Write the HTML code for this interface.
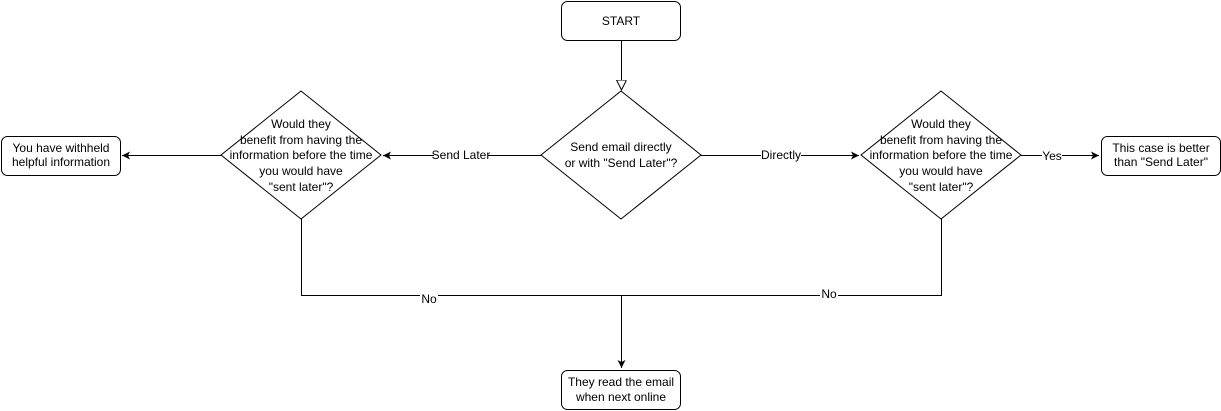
<!DOCTYPE html>
<html><head><meta charset="utf-8"><style>
html,body{margin:0;padding:0;background:#fff;}
svg{display:block;}
text{font-family:"Liberation Sans",Arial,sans-serif;font-size:12px;fill:#000;}
</style></head><body>
<svg width="1221" height="411" viewBox="0 0 1221 411" xmlns="http://www.w3.org/2000/svg">
<defs>
<marker id="a" markerWidth="10" markerHeight="10" refX="8" refY="4" orient="auto" markerUnits="userSpaceOnUse"><path d="M0,0 L8,4 L0,8 L2,4 Z" fill="#000"/></marker>
<marker id="o" markerWidth="12" markerHeight="12" refX="10" refY="5" orient="auto" markerUnits="userSpaceOnUse"><path d="M0,0 L10,5 L0,10 Z" fill="#fff" stroke="#000"/></marker>
</defs>
<g fill="none" stroke="#000" stroke-width="1">
<rect x="561.5" y="1.5" width="119" height="39" rx="6"/>
<rect x="1.5" y="136.5" width="119" height="39" rx="6"/>
<rect x="1101.5" y="136.5" width="119" height="39" rx="6"/>
<rect x="561.5" y="370.5" width="119" height="39" rx="6"/>
<path d="M621,91 L701,155 L621,219 L541,155 Z"/>
<path d="M301,91 L381,155 L301,219 L221,155 Z"/>
<path d="M941,91 L1021,155 L941,219 L861,155 Z"/>
<line x1="621.5" y1="41" x2="621.5" y2="90" marker-end="url(#o)"/>
<line x1="541" y1="155.5" x2="383" y2="155.5" marker-end="url(#a)"/>
<line x1="221" y1="155.5" x2="122" y2="155.5" marker-end="url(#a)"/>
<line x1="701" y1="155.5" x2="859" y2="155.5" marker-end="url(#a)"/>
<line x1="1021" y1="155.5" x2="1099" y2="155.5" marker-end="url(#a)"/>
<polyline points="301.5,219 301.5,295.5 941.5,295.5 941.5,219"/>
<line x1="621.5" y1="295" x2="621.5" y2="368" marker-end="url(#a)"/>
</g>
<g text-anchor="middle">
<text x="621" y="25">START</text>
<text x="621" y="151">Send email directly</text>
<text x="621" y="167">or with "Send Later"?</text>
<text x="61" y="152">You have withheld</text>
<text x="61" y="166">helpful information</text>
<text x="1161" y="152">This case is better</text>
<text x="1161" y="166">than "Send Later"</text>
<text x="621" y="386">They read the email</text>
<text x="621" y="401">when next online</text>
<text x="301" y="128">Would they</text>
<text x="301" y="144">benefit from having the</text>
<text x="301" y="159">information before the time</text>
<text x="301" y="175">you would have</text>
<text x="301" y="191">"sent later"?</text>
<text x="941" y="128">Would they</text>
<text x="941" y="144">benefit from having the</text>
<text x="941" y="159">information before the time</text>
<text x="941" y="175">you would have</text>
<text x="941" y="191">"sent later"?</text>
</g>
<g text-anchor="middle" style="font-size:11px">
<rect x="434" y="148" width="54" height="14" fill="#fff"/>
<text x="461" y="159">Send Later</text>
<rect x="761" y="148" width="40" height="14" fill="#fff"/>
<text x="781" y="159">Directly</text>
<rect x="1042" y="148" width="20" height="14" fill="#fff"/>
<text x="1052" y="160">Yes</text>
<rect x="420" y="292" width="18" height="14" fill="#fff"/>
<text x="429" y="303">No</text>
<rect x="820" y="288" width="18" height="14" fill="#fff"/>
<text x="829" y="298">No</text>
</g>
</svg>
</body></html>
